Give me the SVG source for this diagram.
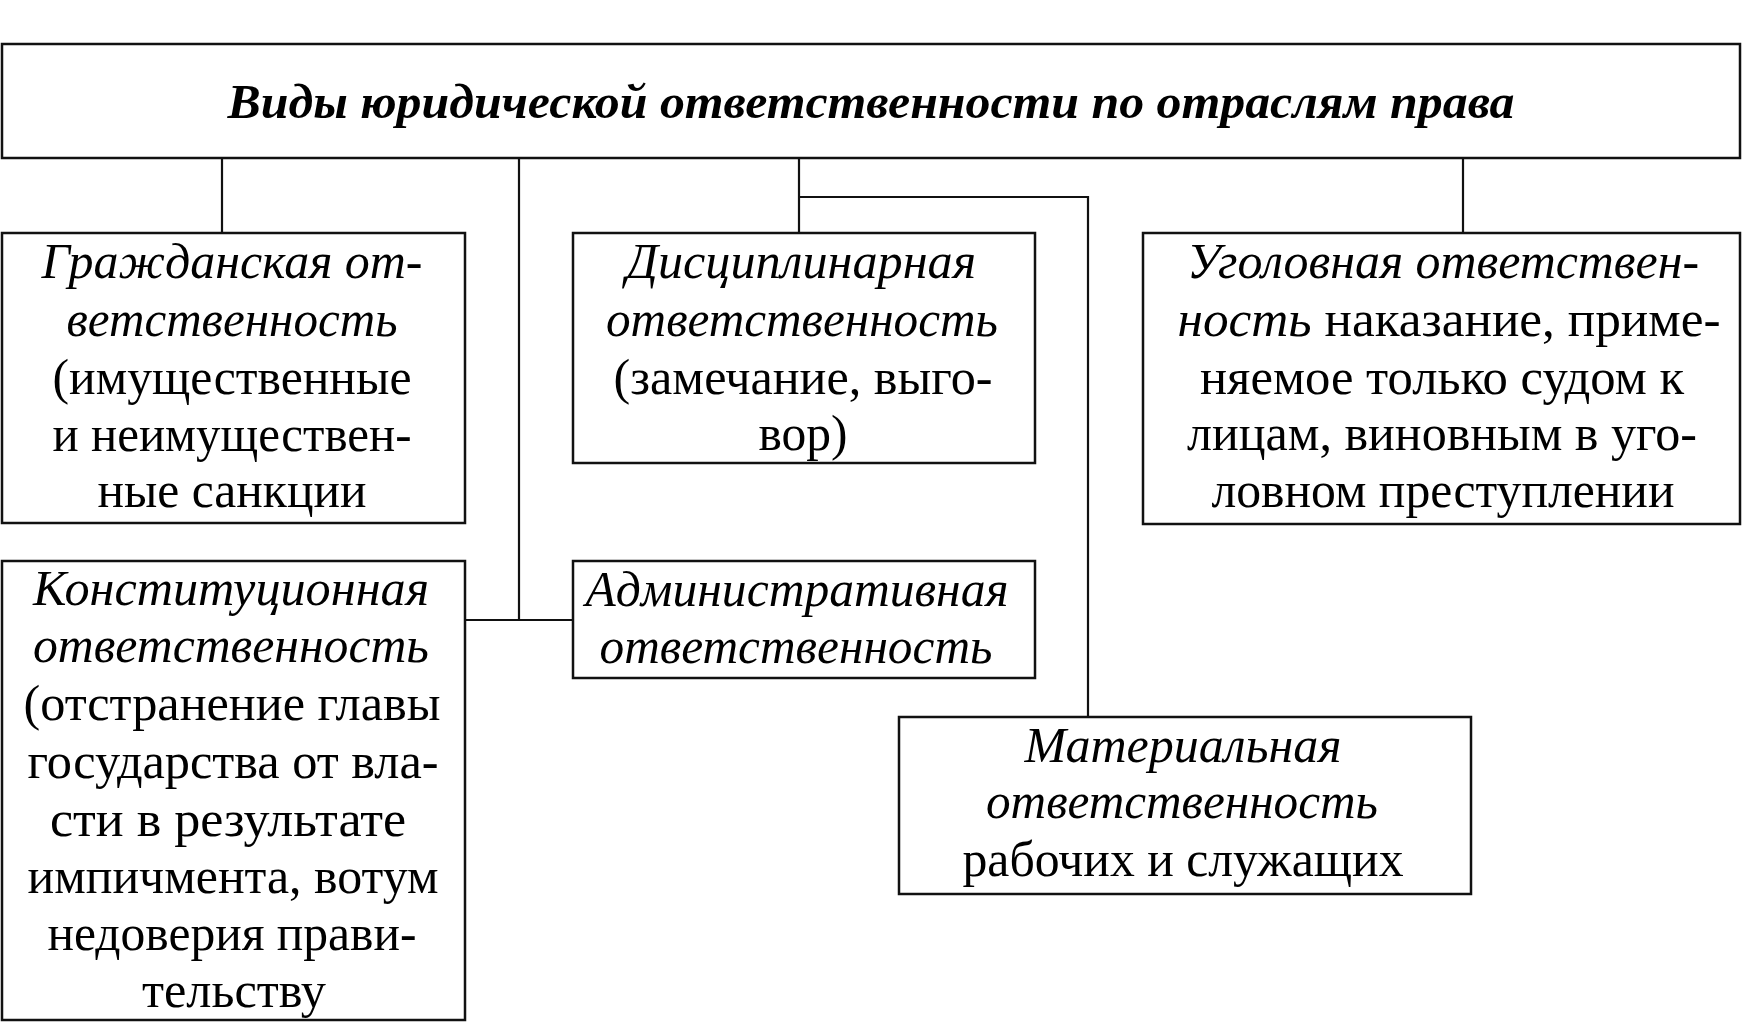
<svg xmlns="http://www.w3.org/2000/svg" width="1743" height="1024" viewBox="0 0 1743 1024">
<style>
.box{fill:#fff;stroke:#111;stroke-width:2.5}
.ln{fill:none;stroke:#111;stroke-width:2.2}
text{font-family:"Liberation Serif","Times New Roman",serif;font-size:51px;fill:#000;text-anchor:middle}
.i{font-style:italic}
.t{font-weight:bold;font-style:italic;font-size:49px}
</style>
<rect width="1743" height="1024" fill="#fff"/>
<g id="connectors">
<path class="ln" d="M222,158V233"/>
<path class="ln" d="M519,158V620M465,620H572"/>
<path class="ln" d="M799,158V233M799,197H1088V717"/>
<path class="ln" d="M1463,158V233"/>
</g>
<g id="root">
<rect class="box" x="2" y="44" width="1738" height="114"/>
<text class="t" x="871" y="118" textLength="1287" lengthAdjust="spacingAndGlyphs">Виды юридической ответственности по отраслям права</text>
</g>
<g id="civil">
<rect class="box" x="2" y="233" width="463" height="290"/>
<text class="i" x="232" y="278" textLength="381" lengthAdjust="spacingAndGlyphs">Гражданская от-</text>
<text class="i" x="232" y="336" textLength="331" lengthAdjust="spacingAndGlyphs">ветственность</text>
<text x="232" y="394" textLength="359" lengthAdjust="spacingAndGlyphs">(имущественные</text>
<text x="232" y="451" textLength="359" lengthAdjust="spacingAndGlyphs">и неимуществен-</text>
<text x="232" y="507" textLength="269" lengthAdjust="spacingAndGlyphs">ные санкции</text>
</g>
<g id="disciplinary">
<rect class="box" x="573" y="233" width="462" height="230"/>
<text class="i" x="801" y="278" textLength="350" lengthAdjust="spacingAndGlyphs">Дисциплинарная</text>
<text class="i" x="802" y="336" textLength="392" lengthAdjust="spacingAndGlyphs">ответственность</text>
<text x="803" y="394" textLength="379" lengthAdjust="spacingAndGlyphs">(замечание, выго-</text>
<text x="803" y="450" textLength="89" lengthAdjust="spacingAndGlyphs">вор)</text>
</g>
<g id="criminal">
<rect class="box" x="1143" y="233" width="597" height="291"/>
<text class="i" x="1443" y="278" textLength="512" lengthAdjust="spacingAndGlyphs">Уголовная ответствен-</text>
<text x="1449" y="336" textLength="543" lengthAdjust="spacingAndGlyphs"><tspan class="i">ность</tspan> наказание, приме-</text>
<text x="1442" y="394" textLength="484" lengthAdjust="spacingAndGlyphs">няемое только судом к</text>
<text x="1442" y="450" textLength="510" lengthAdjust="spacingAndGlyphs">лицам, виновным в уго-</text>
<text x="1443" y="507" textLength="463" lengthAdjust="spacingAndGlyphs">ловном преступлении</text>
</g>
<g id="constitutional">
<rect class="box" x="2" y="561" width="463" height="459"/>
<text class="i" x="231" y="605" textLength="396" lengthAdjust="spacingAndGlyphs">Конституционная</text>
<text class="i" x="231" y="662" textLength="396" lengthAdjust="spacingAndGlyphs">ответственность</text>
<text x="232" y="720" textLength="417" lengthAdjust="spacingAndGlyphs">(отстранение главы</text>
<text x="233" y="778" textLength="411" lengthAdjust="spacingAndGlyphs">государства от вла-</text>
<text x="228" y="836" textLength="356" lengthAdjust="spacingAndGlyphs">сти в результате</text>
<text x="233" y="893" textLength="411" lengthAdjust="spacingAndGlyphs">импичмента, вотум</text>
<text x="232" y="950" textLength="369" lengthAdjust="spacingAndGlyphs">недоверия прави-</text>
<text x="234" y="1007" textLength="184" lengthAdjust="spacingAndGlyphs">тельству</text>
</g>
<g id="administrative">
<rect class="box" x="573" y="561" width="462" height="117"/>
<text class="i" x="797" y="606" textLength="423" lengthAdjust="spacingAndGlyphs">Административная</text>
<text class="i" x="796" y="663" textLength="393" lengthAdjust="spacingAndGlyphs">ответственность</text>
</g>
<g id="material">
<rect class="box" x="899" y="717" width="572" height="177"/>
<text class="i" x="1183" y="762" textLength="317" lengthAdjust="spacingAndGlyphs">Материальная</text>
<text class="i" x="1182" y="818" textLength="392" lengthAdjust="spacingAndGlyphs">ответственность</text>
<text x="1183" y="876" textLength="441" lengthAdjust="spacingAndGlyphs">рабочих и служащих</text>
</g>
</svg>
